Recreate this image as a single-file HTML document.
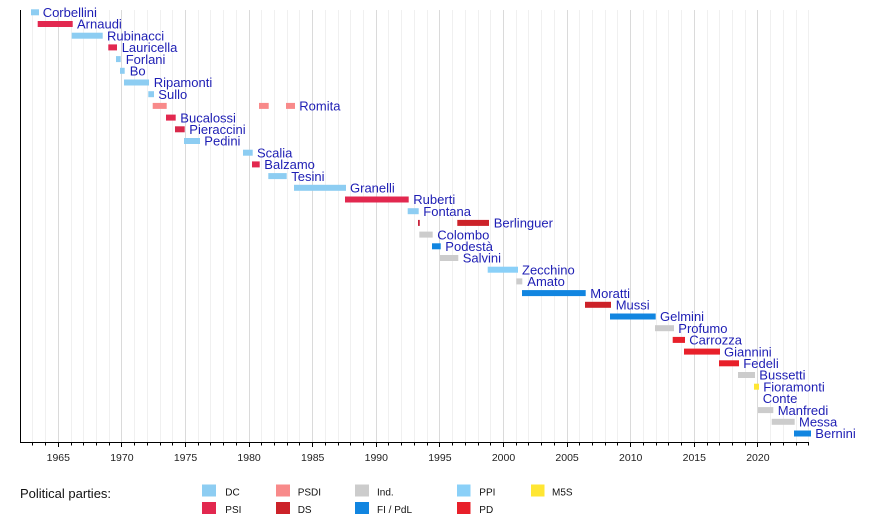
<!DOCTYPE html>
<html><head><meta charset="utf-8"><style>
html,body{margin:0;padding:0;background:#fff;}
svg{display:block;}
.l{font-family:"Liberation Sans",Arial,sans-serif;font-size:13px;fill:#1e1eb4;}
.t{font-family:"Liberation Sans",Arial,sans-serif;font-size:10.5px;fill:#222;text-anchor:middle;}
.g{font-family:"Liberation Sans",Arial,sans-serif;font-size:10px;fill:#111;}
</style></head><body>
<svg width="890" height="522" viewBox="0 0 890 522" xmlns="http://www.w3.org/2000/svg">
<rect width="890" height="522" fill="#fff"/>
<!-- minor grid -->
<path stroke="#f0f0f0" stroke-width="1" fill="none" d="M32.5 10V442M45.5 10V442M71.5 10V442M83.5 10V442M96.5 10V442M109.5 10V442M134.5 10V442M147.5 10V442M160.5 10V442M172.5 10V442M198.5 10V442M210.5 10V442M223.5 10V442M236.5 10V442M261.5 10V442M274.5 10V442M287.5 10V442M299.5 10V442M325.5 10V442M338.5 10V442M350.5 10V442M363.5 10V442M388.5 10V442M401.5 10V442M414.5 10V442M427.5 10V442M452.5 10V442M465.5 10V442M478.5 10V442M490.5 10V442M516.5 10V442M528.5 10V442M541.5 10V442M554.5 10V442M579.5 10V442M592.5 10V442M605.5 10V442M617.5 10V442M643.5 10V442M656.5 10V442M668.5 10V442M681.5 10V442M707.5 10V442M719.5 10V442M732.5 10V442M745.5 10V442M770.5 10V442M783.5 10V442M796.5 10V442M808.5 10V442"/>
<!-- major grid -->
<path stroke="#dadada" stroke-width="1" fill="none" d="M58.5 10V442M121.5 10V442M185.5 10V442M249.5 10V442M312.5 10V442M376.5 10V442M439.5 10V442M503.5 10V442M567.5 10V442M630.5 10V442M694.5 10V442M757.5 10V442"/>

<!-- bars -->
<g>
<rect x="31" y="9.3" width="8" height="6" fill="#8dcdf2"/>
<rect x="37.7" y="21" width="35" height="6" fill="#e2284f"/>
<rect x="71.7" y="32.7" width="31" height="6" fill="#8dcdf2"/>
<rect x="108.3" y="44.4" width="8.7" height="6" fill="#e2284f"/>
<rect x="116" y="56.1" width="4.7" height="6" fill="#8dcdf2"/>
<rect x="120" y="67.8" width="4.7" height="6" fill="#8dcdf2"/>
<rect x="124" y="79.5" width="25" height="6" fill="#8dcdf2"/>
<rect x="148.3" y="91.2" width="5.7" height="6" fill="#8dcdf2"/>
<rect x="152.7" y="102.9" width="14" height="6" fill="#f88a8a"/>
<rect x="259" y="102.9" width="9.7" height="6" fill="#f88a8a"/>
<rect x="286" y="102.9" width="9" height="6" fill="#f88a8a"/>
<rect x="166" y="114.6" width="9.7" height="6" fill="#e2284f"/>
<rect x="175" y="126.3" width="9.7" height="6" fill="#d8284a"/>
<rect x="184" y="138" width="16" height="6" fill="#8dcdf2"/>
<rect x="243" y="149.7" width="9.7" height="6" fill="#8dcdf2"/>
<rect x="252" y="161.4" width="7.7" height="6" fill="#e2284f"/>
<rect x="268.3" y="173.1" width="18.4" height="6" fill="#8dcdf2"/>
<rect x="294" y="184.8" width="52" height="6" fill="#8dcdf2"/>
<rect x="345" y="196.5" width="63.7" height="6" fill="#e2284f"/>
<rect x="407.7" y="208.2" width="11" height="6" fill="#8dcdf2"/>
<rect x="418" y="219.9" width="1.8" height="6" fill="#c8243c"/>
<rect x="457.3" y="219.9" width="31.7" height="6" fill="#cc2229"/>
<rect x="419.3" y="231.6" width="13.4" height="6" fill="#cccccc"/>
<rect x="432" y="243.3" width="8.7" height="6" fill="#1185e0"/>
<rect x="440" y="255" width="18.3" height="6" fill="#cccccc"/>
<rect x="487.7" y="266.7" width="30.3" height="6" fill="#8ad0f8"/>
<rect x="516.3" y="278.4" width="6" height="6" fill="#cccccc"/>
<rect x="522" y="290.1" width="63.7" height="6" fill="#1185e0"/>
<rect x="585" y="301.8" width="26" height="6" fill="#cc2229"/>
<rect x="610" y="313.5" width="45.7" height="6" fill="#1185e0"/>
<rect x="655" y="325.2" width="19" height="6" fill="#cccccc"/>
<rect x="672.7" y="336.9" width="12.3" height="6" fill="#e8202a"/>
<rect x="684" y="348.6" width="36" height="6" fill="#e8202a"/>
<rect x="719" y="360.3" width="20" height="6" fill="#e8202a"/>
<rect x="738" y="372" width="17" height="6" fill="#cccccc"/>
<rect x="754" y="383.7" width="5" height="6" fill="#ffe633"/>
<rect x="758" y="407.1" width="15.3" height="6" fill="#cccccc"/>
<rect x="771.7" y="418.8" width="23" height="6" fill="#cccccc"/>
<rect x="794" y="430.5" width="17" height="6" fill="#1185e0"/>
</g>

<!-- labels -->
<g class="l">
<text x="42.7" y="17">Corbellini</text>
<text x="77" y="28.7">Arnaudi</text>
<text x="107" y="40.4">Rubinacci</text>
<text x="121.7" y="52.1">Lauricella</text>
<text x="125.7" y="63.8">Forlani</text>
<text x="129.7" y="75.5">Bo</text>
<text x="153.7" y="87.2">Ripamonti</text>
<text x="158.3" y="98.9">Sullo</text>
<text x="299.3" y="110.6">Romita</text>
<text x="180.3" y="122.3">Bucalossi</text>
<text x="189.3" y="134">Pieraccini</text>
<text x="204.3" y="145.7">Pedini</text>
<text x="257" y="157.4">Scalia</text>
<text x="264.3" y="169.1">Balzamo</text>
<text x="291.3" y="180.8">Tesini</text>
<text x="350" y="192.5">Granelli</text>
<text x="413.3" y="204.2">Ruberti</text>
<text x="423.3" y="215.9">Fontana</text>
<text x="493.7" y="227.6">Berlinguer</text>
<text x="437.3" y="239.3">Colombo</text>
<text x="445.3" y="251">Podestà</text>
<text x="462.7" y="262.7">Salvini</text>
<text x="522" y="274.4">Zecchino</text>
<text x="527.3" y="286.1">Amato</text>
<text x="590.3" y="297.8">Moratti</text>
<text x="615.7" y="309.5">Mussi</text>
<text x="660" y="321.2">Gelmini</text>
<text x="678.3" y="332.9">Profumo</text>
<text x="689.3" y="344.6">Carrozza</text>
<text x="724" y="356.3">Giannini</text>
<text x="743.3" y="368">Fedeli</text>
<text x="759.3" y="379.7">Bussetti</text>
<text x="763.3" y="391.4">Fioramonti</text>
<text x="762.7" y="403.1">Conte</text>
<text x="777.7" y="414.8">Manfredi</text>
<text x="799" y="426.5">Messa</text>
<text x="815.3" y="438.2">Bernini</text>
</g>

<!-- axes -->
<path stroke="#000" stroke-width="1" fill="none" d="M20.5 10V442.5M20 442.5H809"/>
<!-- minor ticks -->
<path stroke="#000" stroke-width="1" fill="none" d="M32.5 442V445.5M45.5 442V445.5M71.5 442V445.5M83.5 442V445.5M96.5 442V445.5M109.5 442V445.5M134.5 442V445.5M147.5 442V445.5M160.5 442V445.5M172.5 442V445.5M198.5 442V445.5M210.5 442V445.5M223.5 442V445.5M236.5 442V445.5M261.5 442V445.5M274.5 442V445.5M287.5 442V445.5M299.5 442V445.5M325.5 442V445.5M338.5 442V445.5M350.5 442V445.5M363.5 442V445.5M388.5 442V445.5M401.5 442V445.5M414.5 442V445.5M427.5 442V445.5M452.5 442V445.5M465.5 442V445.5M478.5 442V445.5M490.5 442V445.5M516.5 442V445.5M528.5 442V445.5M541.5 442V445.5M554.5 442V445.5M579.5 442V445.5M592.5 442V445.5M605.5 442V445.5M617.5 442V445.5M643.5 442V445.5M656.5 442V445.5M668.5 442V445.5M681.5 442V445.5M707.5 442V445.5M719.5 442V445.5M732.5 442V445.5M745.5 442V445.5M770.5 442V445.5M783.5 442V445.5M796.5 442V445.5M808.5 442V445.5"/>
<!-- major ticks -->
<path stroke="#000" stroke-width="1" fill="none" d="M58.5 442V447M121.5 442V447M185.5 442V447M249.5 442V447M312.5 442V447M376.5 442V447M439.5 442V447M503.5 442V447M567.5 442V447M630.5 442V447M694.5 442V447M757.5 442V447"/>
<g class="t">
<text x="58.3" y="461">1965</text>
<text x="121.9" y="461">1970</text>
<text x="185.5" y="461">1975</text>
<text x="249.1" y="461">1980</text>
<text x="312.7" y="461">1985</text>
<text x="376.3" y="461">1990</text>
<text x="439.9" y="461">1995</text>
<text x="503.5" y="461">2000</text>
<text x="567.1" y="461">2005</text>
<text x="630.7" y="461">2010</text>
<text x="694.3" y="461">2015</text>
<text x="757.9" y="461">2020</text>
</g>

<!-- legend -->
<text x="20" y="498" style="font-family:'Liberation Sans',Arial,sans-serif;font-size:13px;fill:#111;">Political parties:</text>
<rect x="202" y="484.5" width="14" height="12" fill="#8dcdf2"/>
<rect x="202" y="502" width="14" height="12" fill="#e2284f"/>
<rect x="276" y="484.5" width="14" height="12" fill="#f88a8a"/>
<rect x="276" y="502" width="14" height="12" fill="#cc2229"/>
<rect x="355" y="484.5" width="14" height="12" fill="#cccccc"/>
<rect x="355" y="502" width="14" height="12" fill="#1185e0"/>
<rect x="457" y="484.5" width="13.5" height="12" fill="#8ad0f8"/>
<rect x="457" y="502" width="13.5" height="12" fill="#e8202a"/>
<rect x="531" y="484.5" width="13.5" height="12" fill="#ffe633"/>
<g class="g">
<text x="225.3" y="495.3">DC</text>
<text x="225.3" y="513">PSI</text>
<text x="297.7" y="495.3">PSDI</text>
<text x="297.7" y="513">DS</text>
<text x="377" y="495.3">Ind.</text>
<text x="377" y="513">FI / PdL</text>
<text x="479.3" y="495.3">PPI</text>
<text x="479.3" y="513">PD</text>
<text x="552" y="495.3">M5S</text>
</g>
</svg>
</body></html>
